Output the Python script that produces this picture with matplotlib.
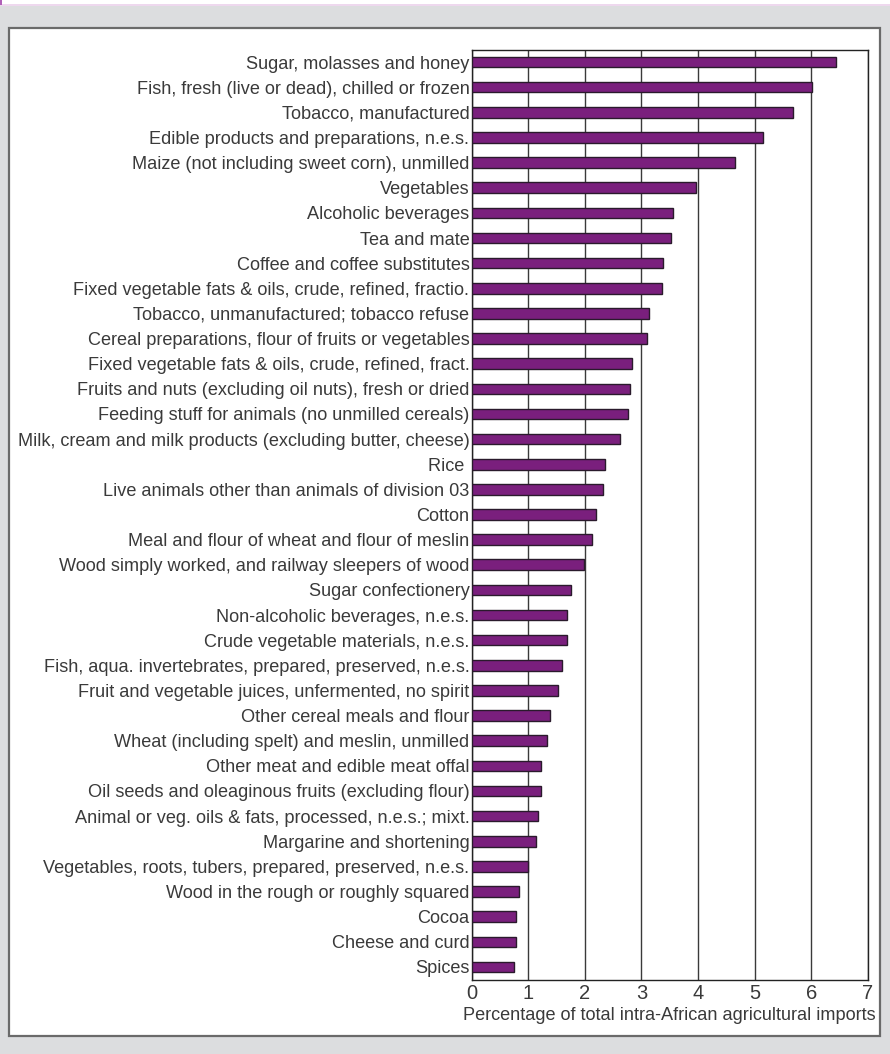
import matplotlib
matplotlib.use("Agg")
import matplotlib.pyplot as plt
from matplotlib.patches import Rectangle

categories = [
    "Sugar, molasses and honey",
    "Fish, fresh (live or dead), chilled or frozen",
    "Tobacco, manufactured",
    "Edible products and preparations, n.e.s.",
    "Maize (not including sweet corn), unmilled",
    "Vegetables",
    "Alcoholic beverages",
    "Tea and mate",
    "Coffee and coffee substitutes",
    "Fixed vegetable fats & oils, crude, refined, fractio.",
    "Tobacco, unmanufactured; tobacco refuse",
    "Cereal preparations, flour of fruits or vegetables",
    "Fixed vegetable fats & oils, crude, refined, fract.",
    "Fruits and nuts (excluding oil nuts), fresh or dried",
    "Feeding stuff for animals (no unmilled cereals)",
    "Milk, cream and milk products (excluding butter, cheese)",
    "Rice ",
    "Live animals other than animals of division 03",
    "Cotton",
    "Meal and flour of wheat and flour of meslin",
    "Wood simply worked, and railway sleepers of wood",
    "Sugar confectionery",
    "Non-alcoholic beverages, n.e.s.",
    "Crude vegetable materials, n.e.s.",
    "Fish, aqua. invertebrates, prepared, preserved, n.e.s.",
    "Fruit and vegetable juices, unfermented, no spirit",
    "Other cereal meals and flour",
    "Wheat (including spelt) and meslin, unmilled",
    "Other meat and edible meat offal",
    "Oil seeds and oleaginous fruits (excluding flour)",
    "Animal or veg. oils & fats, processed, n.e.s.; mixt.",
    "Margarine and shortening",
    "Vegetables, roots, tubers, prepared, preserved, n.e.s.",
    "Wood in the rough or roughly squared",
    "Cocoa",
    "Cheese and curd",
    "Spices",
]

values = [6.44, 6.02, 5.67, 5.15, 4.65, 3.96, 3.55, 3.53, 3.38, 3.36,
          3.13, 3.10, 2.83, 2.80, 2.76, 2.63, 2.36, 2.33, 2.20, 2.13,
          1.98, 1.75, 1.68, 1.68, 1.60, 1.53, 1.38, 1.33, 1.23, 1.23,
          1.18, 1.13, 1.00, 0.83, 0.78, 0.78, 0.75]

x_ticks = [0, 1, 2, 3, 4, 5, 6, 7]
x_label = "Percentage of total intra-African agricultural imports"

plt.rcParams['font.family'] = ['Liberation Sans', 'DejaVu Sans']

W, H = 890, 1054
fig = plt.figure(figsize=(W / 100, H / 100), dpi=100)
fig.patch.set_facecolor("#dcdddf")

# top white strip with thin pink line
fig.add_artist(Rectangle((0, 1 - 4.5 / H), 1, 4.5 / H, transform=fig.transFigure,
                         facecolor="white", edgecolor="none", zorder=0))
fig.add_artist(Rectangle((0, 1 - 5.5 / H), 1, 1.0 / H, transform=fig.transFigure,
                         facecolor="#eed8ee", edgecolor="none", zorder=0))
fig.add_artist(Rectangle((0, 1 - 5 / H), 2 / W, 5 / H, transform=fig.transFigure,
                         facecolor="#b060b8", edgecolor="none", zorder=0))

# white panel
px0, px1, py0, py1 = 8.5, 880, 27.5, 1036
fig.add_artist(Rectangle((px0 / W, 1 - py1 / H), (px1 - px0) / W, (py1 - py0) / H,
                         transform=fig.transFigure, facecolor="white",
                         edgecolor="#6a6a6a", linewidth=1.6, zorder=0))

ax_l, ax_r, ax_t, ax_b = 471.5, 868, 50, 980
ax = fig.add_axes([ax_l / W, 1 - ax_b / H, (ax_r - ax_l) / W, (ax_b - ax_t) / H])
ax.set_facecolor("white")

ypos = list(range(len(categories)))
ax.barh(ypos, values, height=0.42, color="#7a1f7d", edgecolor="#2a1a2c",
        linewidth=1.0, zorder=3)

ax.set_xlim(0, 7)
ax.set_ylim(len(categories) - 0.48, -0.48)
ax.set_yticks(ypos)
ax.set_yticklabels(categories, fontsize=13.05, color="#3a3a3a")
ax.set_xticks(x_ticks)
ax.set_xticklabels([str(t) for t in x_ticks], fontsize=14.5, color="#3a3a3a")
ax.tick_params(axis="y", length=0, pad=1.5)
ax.tick_params(axis="x", length=0, pad=3)
ax.set_xlabel(x_label, fontsize=13.1, color="#3a3a3a", labelpad=3)

ax.grid(axis="x", color="#3a3a3a", linewidth=1.0, zorder=1)
ax.grid(axis="y", visible=False)
for s in ax.spines.values():
    s.set_color("#222222")
    s.set_linewidth(1.0)

fig.savefig("out.png", dpi=100, facecolor=fig.get_facecolor())
